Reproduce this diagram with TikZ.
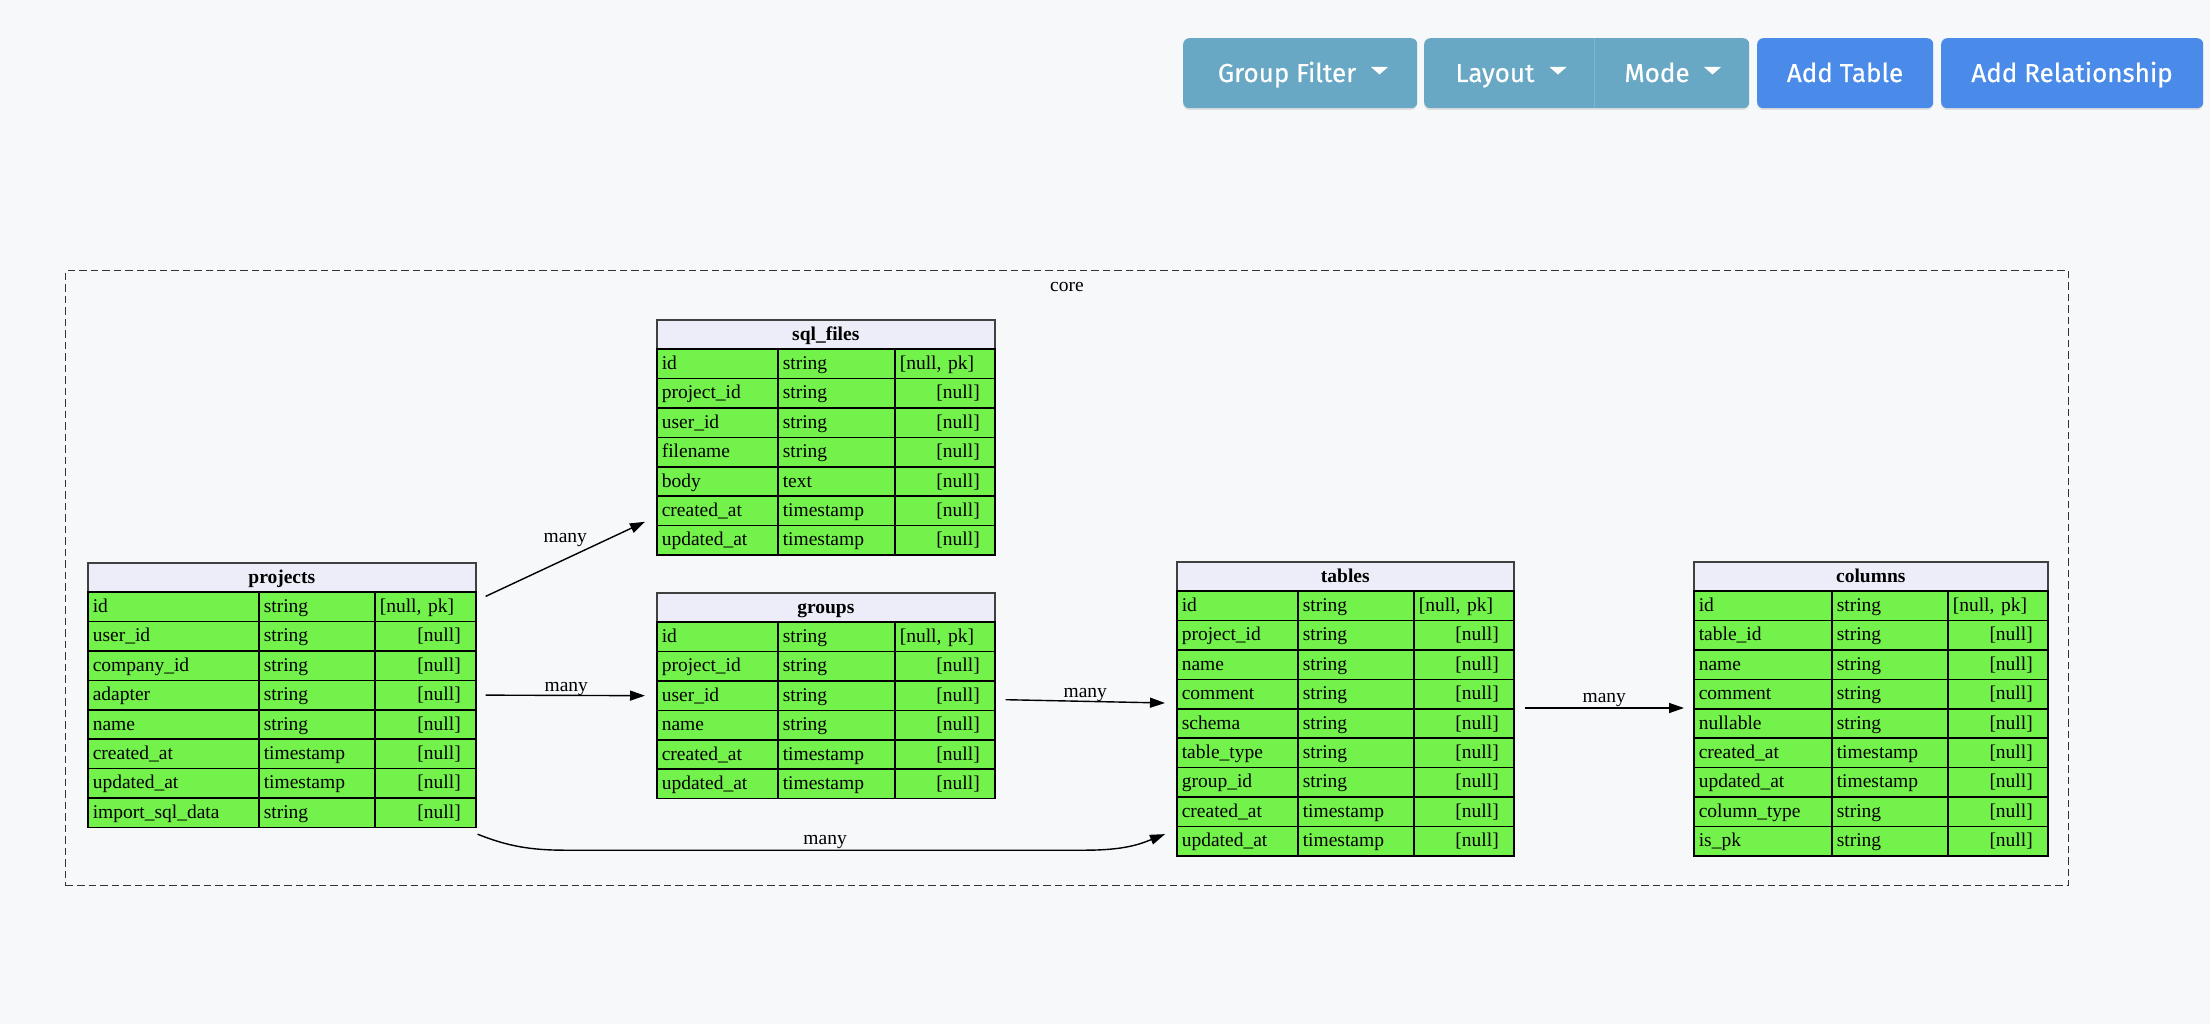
\documentclass[tikz,border=0pt]{standalone}
\usepackage{fontspec}
\setmainfont{Liberation Serif}
\newfontfamily\btnfont{Fira Sans}[FakeBold=0.5]
\usetikzlibrary{arrows.meta,positioning,calc}

\definecolor{pagebg}{HTML}{F7F8FA}
\definecolor{rowgreen}{HTML}{74F24C}
\definecolor{headlav}{HTML}{EDEDFA}
\definecolor{btnteal}{HTML}{68A8C4}
\definecolor{btnblue}{HTML}{4A8BEA}

\tikzset{
  tblfont/.style={font=\fontsize{19.5}{22}\selectfont},
  head/.style={draw=black!75, fill=headlav, line width=1.6pt, anchor=north west,
    inner sep=0pt, minimum height=29.4pt, text height=15pt, text depth=4pt,
    font=\fontsize{19.5}{22}\selectfont\bfseries},
  cell/.style={draw=black, fill=rowgreen, line width=1.6pt, anchor=north west,
    inner xsep=5pt, inner ysep=0pt, minimum height=29.4pt, text height=15pt,
    text depth=4pt, align=left, tblfont},
  rel/.style={-{Triangle[length=15pt,width=10pt]}, line width=1.4pt},
  lbl/.style={anchor=base, inner sep=0pt, tblfont},
  btn/.style={rounded corners=6pt, anchor=north west, inner sep=0pt, minimum height=70pt},
  btnlabel/.style={anchor=base, text=white, inner sep=0pt, font=\btnfont\fontsize{26}{30}\selectfont},
  cluster/.style={draw=black!80, dash pattern=on 7.5pt off 4pt, line width=1.2pt,
    anchor=north west, inner sep=0pt}
}

% name, left, top, widths of the three columns, title, fields
\newcommand{\dbtable}[8]{%
  \pgfmathsetmacro\tblw{#4+#5+#6}
  \pgfmathsetmacro\wcola{#4-10}
  \pgfmathsetmacro\wcolb{#5-10}
  \pgfmathsetmacro\wcolc{#6-10}
  \pgfmathsetmacro\wnull{#6-30}
  \node[head, minimum width=\tblw pt] (#1) at (#2,#3) {#7};
  \foreach \fname/\ftype [count=\i] in {#8} {
    \pgfmathsetmacro\rowy{#3+29.4*\i}
    \node[cell, text width=\wcola pt] (#1-\i-a) at (#2,\rowy) {\fname};
    \node[cell, text width=\wcolb pt] (#1-\i-b) at (#2+#4,\rowy) {\ftype};
    \ifnum\i=1
      \node[cell, text width=\wcolc pt] (#1-\i-c) at (#2+#4+#5,\rowy) {[null, pk]};
    \else
      \node[cell, text width=\wnull pt, inner xsep=15pt, align=right] (#1-\i-c) at (#2+#4+#5,\rowy) {[null]};
    \fi
  }
}

\begin{document}
\begin{tikzpicture}[x=1pt, y=-1pt]
\fill[pagebg] (0,0) rectangle (2210,1024);
\useasboundingbox (0,0) rectangle (2210,1024);

% toolbar
\foreach \bx/\bw in {1183/234, 1424/325, 1757/176, 1941/262}
  \fill[black!12, rounded corners=6pt] (\bx,40) rectangle ++(\bw,70);
\node[btn, fill=btnteal, minimum width=234pt] (grpbtn) at (1183,38) {};
\node[btn, fill=btnteal, minimum width=325pt] (viewbtn) at (1424,38) {};
\node[btn, fill=btnblue, minimum width=176pt] (tablebtn) at (1757,38) {};
\node[btn, fill=btnblue, minimum width=262pt] (relbtn) at (1941,38) {};
\draw[btnteal!85!white, line width=0.8pt] (1594,38) -- (1594,108);
\node[btnlabel] (grplbl) at (1287,82) {Group Filter};
\node[btnlabel] (layoutlbl) at (1495,82) {Layout};
\node[btnlabel] (modelbl) at (1657,82) {Mode};
\node[btnlabel] (tablelbl) at (1845,82) {Add Table};
\node[btnlabel] (rellbl) at (2072,82) {Add Relationship};
\foreach \tx in {1379.5,1558,1712.5}
  \fill[white] (\tx-8.5,67) -- (\tx+8.5,67) -- (\tx,74.5) -- cycle;

% core group
\node[cluster, minimum width=2003pt, minimum height=615pt] (core) at (65,270) {};
\node[tblfont, inner sep=0pt] (corelbl) at (1067,287) {core};

% tables
\dbtable{projects}{87}{562}{171}{116}{101}{projects}{id/string, user\_id/string,
  company\_id/string, adapter/string, name/string, created\_at/timestamp,
  updated\_at/timestamp, import\_sql\_data/string}
\dbtable{sqlfiles}{656}{319}{121}{117}{100}{sql\_files}{id/string, project\_id/string,
  user\_id/string, filename/string, body/text, created\_at/timestamp, updated\_at/timestamp}
\dbtable{groups}{656}{592}{121}{117}{100}{groups}{id/string, project\_id/string,
  user\_id/string, name/string, created\_at/timestamp, updated\_at/timestamp}
\dbtable{tables}{1176}{561}{121}{116}{100}{tables}{id/string, project\_id/string,
  name/string, comment/string, schema/string, table\_type/string, group\_id/string,
  created\_at/timestamp, updated\_at/timestamp}
\dbtable{columns}{1693}{561}{138}{116}{100}{columns}{id/string, table\_id/string,
  name/string, comment/string, nullable/string, created\_at/timestamp,
  updated\_at/timestamp, column\_type/string, is\_pk/string}

% relations
\draw[rel] ([shift={(9,5)}]projects-1-c.north east) -- node[lbl, yshift=16.5pt] {many}
  ([shift={(-11,-3)}]sqlfiles-7-a.north west);
\draw[rel, shorten <=9pt, shorten >=11pt] (projects-4-c.east) -- node[lbl, yshift=4pt] {many}
  (groups-3-a.west);
\draw[rel] ([shift={(10,4)}]groups-3-c.east) -- node[lbl, yshift=4pt] {many}
  ([shift={(-11,-5)}]tables-5-a.north west);
\draw[rel] ([xshift=10pt]tables-5-c.north east) -- node[lbl, yshift=6pt] {many}
  ([xshift=-9pt]columns-5-a.north west);
\draw[rel] ([shift={(1,6)}]projects-8-c.south east) .. controls +(30,12) and +(-35,0) .. ++(88,16)
  -- node[lbl, yshift=6pt] {many} ++(519,0)
  .. controls +(40,0) and +(-25,10) .. ([shift={(-11,-7)}]tables-9-a.west);
\end{tikzpicture}
\end{document}
